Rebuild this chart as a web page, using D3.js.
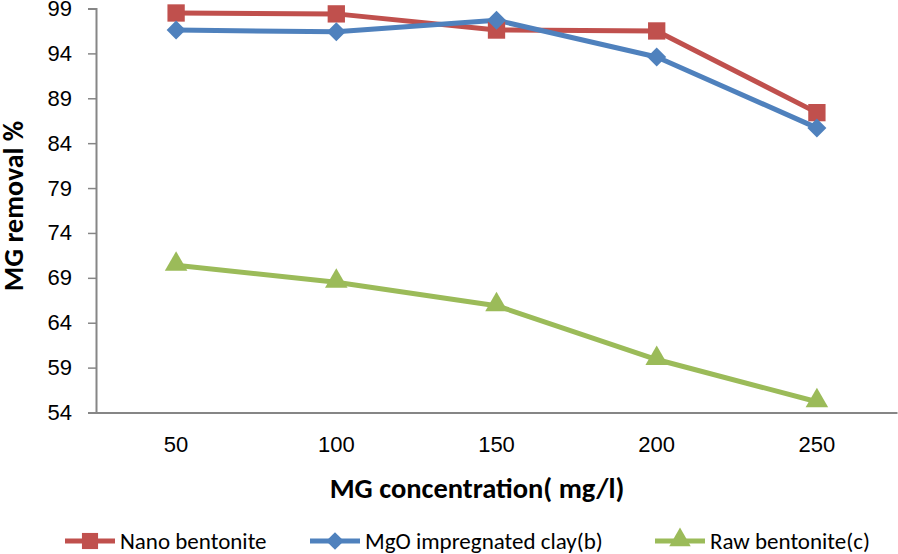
<!DOCTYPE html>
<html>
<head>
<meta charset="utf-8">
<script src="https://cdn.jsdelivr.net/npm/d3@7"></script>
<style>
  html, body { margin: 0; padding: 0; background: #fff; }
  svg { display: block; font-family: Carlito, Calibri, Lato, "Open Sans", sans-serif; }
</style>
</head>
<body>
<svg id="chart" width="898" height="554"></svg>
<script>
const categories = ["50", "100", "150", "200", "250"];
const nanoBentonite = [98.5, 98.4, 96.6, 96.5, 87.4];
const mgoClay = [96.6, 96.4, 97.7, 93.6, 85.7];
const rawBentonite = [70.4, 68.5, 65.9, 59.9, 55.2];
const yTicks = [54, 59, 64, 69, 74, 79, 84, 89, 94, 99];
const seriesNames = ["Nano bentonite", "MgO impregnated clay(b)", "Raw bentonite(c)"];
const seriesColors = ["#C0504D", "#4F81BD", "#9BBB59"];
const seriesSymbols = ["square", "diamond", "triangle"];

const series = [nanoBentonite, mgoClay, rawBentonite].map((vals, i) => ({
  name: seriesNames[i], color: seriesColors[i], symbol: seriesSymbols[i], values: vals
}));

const svg = d3.select("#chart");
const margin = { left: 96, right: 1, top: 8.5, bottom: 141.5 };
const W = 898, H = 554;
const x = d3.scaleBand().domain(categories).range([margin.left, W - margin.right]);
const y = d3.scaleLinear().domain([54, 99]).range([H - margin.bottom, margin.top]);

const symbolGen = {
  square: d3.symbol().type(d3.symbolSquare).size(300),
  diamond: d3.symbol().type(d3.symbolDiamond2).size(230),
  triangle: d3.symbol().type(d3.symbolTriangle).size(220)
};

// Y axis
const yAxis = d3.axisLeft(y).tickValues(yTicks).tickSize(8).tickPadding(16).tickFormat(d3.format("d"));
const gy = svg.append("g").attr("transform", `translate(${margin.left},0)`).call(yAxis);
gy.select(".domain").attr("stroke", "#868686").attr("stroke-width", 2);
gy.selectAll(".tick line").attr("stroke", "#868686").attr("stroke-width", 1.5);
gy.selectAll(".tick text").attr("font-size", 22).attr("fill", "#000").attr("font-family", null);

// X axis
const xAxis = d3.axisBottom(x).tickSize(0).tickPadding(24);
const gx = svg.append("g").attr("transform", `translate(0,${y(54)})`).call(xAxis);
gx.select(".domain").attr("stroke", "#868686").attr("stroke-width", 2);
gx.selectAll(".tick text").attr("font-size", 22).attr("fill", "#000").attr("font-family", null);

// Lines and markers
const line = d3.line().x((d, i) => x(categories[i]) + x.bandwidth() / 2).y(d => y(d));
series.forEach(s => {
  svg.append("path").datum(s.values).attr("d", line)
    .attr("fill", "none").attr("stroke", s.color).attr("stroke-width", 5)
    .attr("stroke-linejoin", "round");
});
series.forEach(s => {
  svg.append("g").selectAll("path").data(s.values).join("path")
    .attr("d", symbolGen[s.symbol])
    .attr("transform", (d, i) => `translate(${x(categories[i]) + x.bandwidth() / 2},${y(d) + (s.symbol === "triangle" ? -1 : 0)})`)
    .attr("fill", s.color);
});

// Axis titles
svg.append("text").attr("x", 477).attr("y", 498).attr("text-anchor", "middle")
  .attr("font-size", 28.5).attr("font-weight", "bold").text("MG concentration( mg/l)");
svg.append("text").attr("transform", "translate(23,206) rotate(-90)").attr("text-anchor", "middle")
  .attr("font-size", 28).attr("font-weight", "bold").text("MG removal %");

// Legend
const legendPos = [65, 310, 655];
const legendSym = {
  square: d3.symbol().type(d3.symbolSquare).size(260),
  diamond: d3.symbol().type(d3.symbolDiamond2).size(200),
  triangle: d3.symbol().type(d3.symbolTriangle).size(200)
};
series.forEach((s, i) => {
  const g = svg.append("g").attr("transform", `translate(${legendPos[i]},541)`);
  g.append("line").attr("x1", 0).attr("x2", 50).attr("stroke", s.color).attr("stroke-width", 5);
  g.append("path").attr("d", legendSym[s.symbol]).attr("transform", `translate(25,${s.symbol === "triangle" ? -1 : 0})`).attr("fill", s.color);
  g.append("text").attr("x", 55).attr("y", 8).attr("font-size", 23).attr("fill", "#000").text(s.name);
});
</script>
</body>
</html>
